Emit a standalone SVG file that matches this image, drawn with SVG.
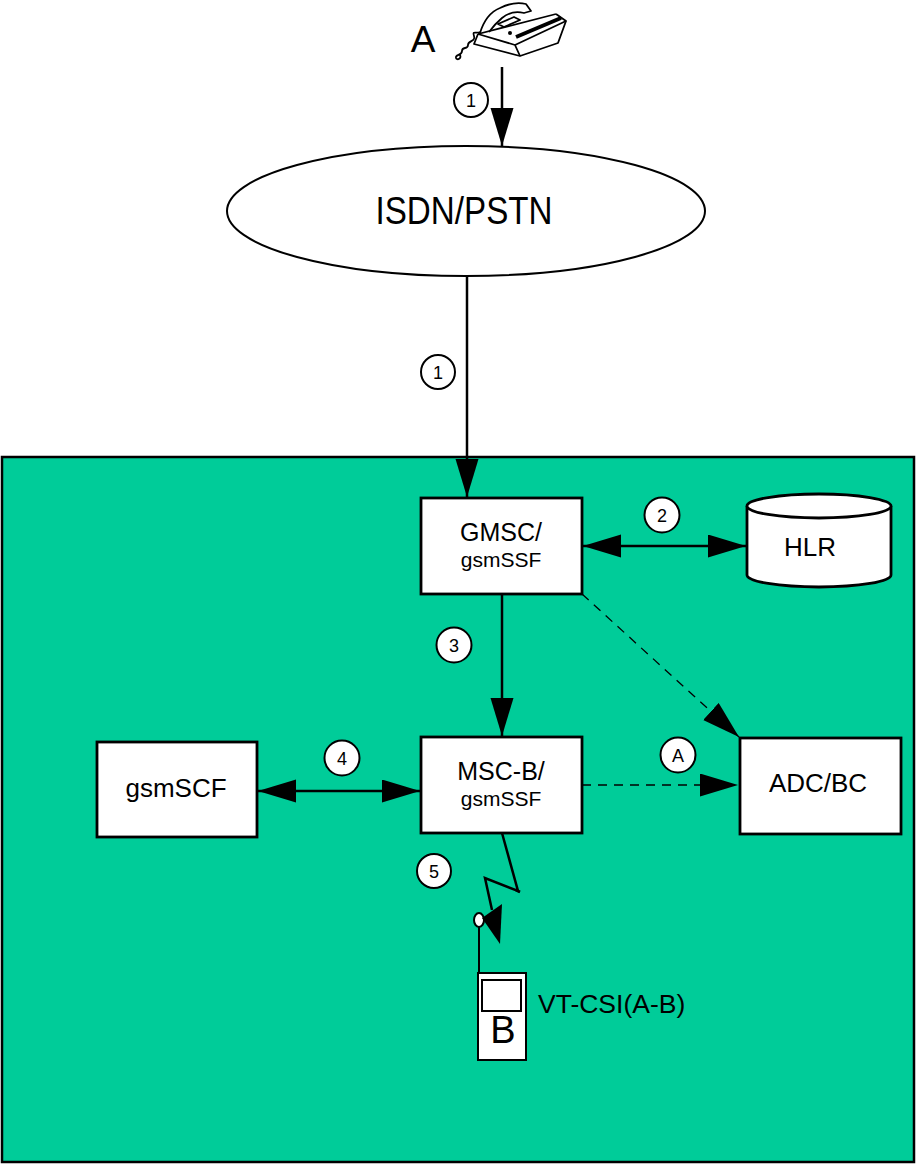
<svg xmlns="http://www.w3.org/2000/svg" width="916" height="1164" viewBox="0 0 916 1164">
<defs>
<style>
.box{fill:#fff;stroke:#000;stroke-width:2.8}
.ln{stroke:#000;stroke-width:2.5;fill:none}
.dash{stroke:#000;stroke-width:1.3;fill:none;stroke-dasharray:9 7}
.cir{fill:#fff;stroke:#000;stroke-width:2}
.t{font-family:"Liberation Sans",Arial,sans-serif;fill:#000;text-anchor:middle}
.num{font-family:"Liberation Sans",Arial,sans-serif;font-size:18px;fill:#000;text-anchor:middle}
</style>
<marker id="ah" markerUnits="userSpaceOnUse" markerWidth="40" markerHeight="24" refX="38" refY="11.5" orient="auto-start-reverse" viewBox="0 0 40 24">
<path d="M0,0 L38,11.5 L0,23 Z" fill="#000"/>
</marker>
</defs>
<rect width="916" height="1164" fill="#fff"/>
<rect id="network" x="2" y="457" width="912" height="705" fill="#00CC99" stroke="#000" stroke-width="2.5"/>

<g id="phoneA">
<text class="t" x="423" y="52" font-size="37">A</text>
<g fill="none" stroke="#000" stroke-width="1.8" stroke-linejoin="round">
<path d="M478,34 L474,44 L520,56 L558,43 L566,21 L556,14" fill="#fff"/>
<path d="M478,34 L515,45 L566,21 M515,45 L520,56"/>
<path d="M480,33 C484,20 490,12 500,8 C508,4 518,2 526,4 L531,11 L524,13 C516,11 508,13 502,18 C496,23 492,28 489,32" fill="#fff"/>
<path d="M498,24 L514,17 L520,20 L504,27 Z"/>
<path d="M478,34 L556,14"/>
<path d="M480,32 C476,34 472,30 474,36 C476,42 468,40 468,45 C468,50 462,46 462,51 C462,56 455,54 456,58 C457,61 462,58 460,55"/>
</g>
<path d="M516,37 L561,18" stroke="#000" stroke-width="4"/>
<circle cx="510" cy="33" r="2" fill="#000"/>
</g>

<g id="isdn">
<ellipse cx="466" cy="211" rx="239" ry="65" fill="#fff" stroke="#000" stroke-width="2"/>
<text class="t" x="464" y="224" font-size="38" textLength="177" lengthAdjust="spacingAndGlyphs">ISDN/PSTN</text>
</g>

<g id="gmsc">
<rect class="box" x="421" y="498" width="161" height="96"/>
<text class="t" x="501" y="541" font-size="25">GMSC/</text>
<text class="t" x="501" y="567" font-size="21">gsmSSF</text>
</g>

<g id="hlr">
<path d="M747,506 L747,575 A72,12 0 0 0 891,575 L891,506" fill="#fff" stroke="#000" stroke-width="2.8"/>
<ellipse cx="819" cy="506" rx="72" ry="12" fill="#fff" stroke="#000" stroke-width="2.8"/>
<text class="t" x="810" y="556" font-size="26">HLR</text>
</g>

<g id="mscb">
<rect class="box" x="421" y="737" width="161" height="96"/>
<text class="t" x="501" y="780" font-size="25">MSC-B/</text>
<text class="t" x="501" y="806" font-size="21">gsmSSF</text>
</g>

<g id="gsmscf">
<rect class="box" x="97" y="742" width="160" height="95"/>
<text class="t" x="176" y="797" font-size="26">gsmSCF</text>
</g>

<g id="adcbc">
<rect class="box" x="740" y="738" width="161" height="96"/>
<text class="t" x="818" y="792" font-size="26">ADC/BC</text>
</g>

<g id="phoneB">
<line x1="479" y1="920" x2="479" y2="973" stroke="#000" stroke-width="2"/>
<ellipse cx="479" cy="920" rx="5" ry="7" fill="#fff" stroke="#000" stroke-width="2"/>
<rect x="478" y="973" width="48" height="87" fill="#fff" stroke="#000" stroke-width="2"/>
<rect x="482" y="980" width="39" height="31" fill="#fff" stroke="#000" stroke-width="2"/>
<text class="t" x="503" y="1043" font-size="38">B</text>
<text x="538" y="1013" font-family="Liberation Sans,Arial,sans-serif" font-size="26.5">VT-CSI(A-B)</text>
</g>

<g id="connectors">
<line class="ln" x1="502" y1="67" x2="502" y2="146" stroke-width="2" marker-end="url(#ah)"/>
<line class="ln" x1="467" y1="277" x2="467" y2="497" stroke-width="2" marker-end="url(#ah)"/>
<line class="ln" x1="583" y1="546" x2="746" y2="546" marker-start="url(#ah)" marker-end="url(#ah)"/>
<line class="ln" x1="502" y1="594" x2="502" y2="736" marker-end="url(#ah)"/>
<line class="ln" x1="258" y1="791" x2="420" y2="791" marker-start="url(#ah)" marker-end="url(#ah)"/>
<line class="dash" x1="582" y1="785" x2="738" y2="785" marker-end="url(#ah)"/>
<line class="dash" x1="582" y1="594" x2="739" y2="737" marker-end="url(#ah)"/>
<path class="ln" d="M502,833 L518,891 L485,878 L492,910"/>
<line x1="516" y1="890" x2="520" y2="892" stroke="#000" stroke-width="3"/>
<path d="M482,918 L502,904 L500,944 Z" fill="#000"/>
</g>

<g id="labels">
<circle class="cir" cx="471" cy="100" r="17"/><text class="num" x="471" y="106.5">1</text>
<circle class="cir" cx="438" cy="372" r="17"/><text class="num" x="438" y="378.5">1</text>
<circle class="cir" cx="662" cy="515" r="17.5"/><text class="num" x="662" y="521.5">2</text>
<circle class="cir" cx="454" cy="645" r="17.5"/><text class="num" x="454" y="651.5">3</text>
<circle class="cir" cx="342" cy="758" r="17.5"/><text class="num" x="342" y="764.5">4</text>
<circle class="cir" cx="678" cy="755" r="17.5"/><text class="num" x="678" y="761.5">A</text>
<circle class="cir" cx="434" cy="871" r="17"/><text class="num" x="434" y="877.5">5</text>
</g>
</svg>
